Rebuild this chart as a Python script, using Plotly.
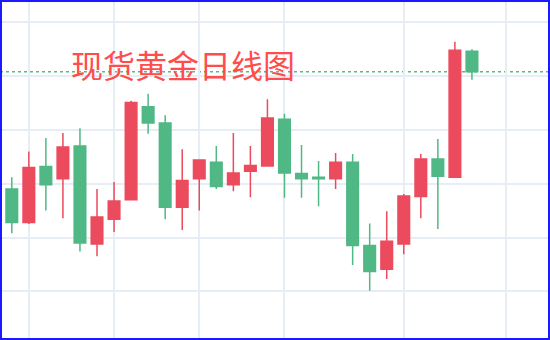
import plotly.graph_objects as go

# Daily candles (index order, oldest first)
days = list(range(28))
open_ = [1929.0, 1922.8, 1933.2, 1930.9, 1937.0, 1918.8, 1923.4, 1927.0, 1944.3, 1941.3,
         1925.6, 1930.9, 1934.0, 1929.8, 1932.3, 1933.3, 1942.0, 1931.9, 1931.2, 1930.9,
         1934.0, 1918.5, 1914.1, 1918.8, 1927.6, 1934.6, 1931.2, 1954.6]
high = [1931.2, 1936.0, 1938.5, 1939.4, 1940.3, 1929.0, 1930.3, 1945.4, 1946.7, 1942.7,
        1936.4, 1934.5, 1937.0, 1939.4, 1937.0, 1945.7, 1943.0, 1937.2, 1934.2, 1935.7,
        1935.5, 1922.6, 1924.9, 1928.1, 1935.5, 1938.3, 1956.4, 1955.0]
low = [1920.8, 1922.5, 1925.0, 1923.6, 1917.4, 1916.5, 1921.0, 1926.9, 1939.3, 1923.4,
       1921.4, 1925.0, 1929.0, 1928.6, 1927.5, 1933.2, 1927.4, 1927.4, 1925.8, 1929.0,
       1914.9, 1910.1, 1912.3, 1916.9, 1923.6, 1921.6, 1931.2, 1949.3]
close = [1922.8, 1933.0, 1929.8, 1936.8, 1919.0, 1923.8, 1926.8, 1945.1, 1941.3, 1925.6,
         1930.6, 1934.4, 1929.5, 1932.0, 1933.4, 1942.2, 1932.0, 1930.9, 1930.9, 1934.0,
         1918.5, 1913.7, 1919.3, 1927.7, 1934.6, 1931.4, 1954.8, 1950.8]
grid_x = [1, 6, 11, 16, 23, 29]
grid_y = [1910, 1920, 1930, 1940, 1950, 1960]
title_text = "现货黄金日线图"

RED = "#eb4b5c"
GREEN = "#4fb884"

fig = go.Figure()
fig.add_trace(go.Candlestick(
    x=days, open=open_, high=high, low=low, close=close,
    increasing=dict(fillcolor=RED, line=dict(color=RED, width=1.5)),
    decreasing=dict(fillcolor=GREEN, line=dict(color=GREEN, width=1.5)),
    whiskerwidth=0, hoverinfo="skip", showlegend=False,
))

# last price dotted line
fig.add_hline(y=close[-1], line=dict(color="#5cb88a", width=1.5, dash="dot"), layer="below")

fig.add_annotation(
    text=title_text, xref="paper", yref="paper", x=69 / 550, y=1 - 64 / 340,
    xanchor="left", yanchor="middle", showarrow=False,
    font=dict(family="Noto Sans CJK SC", size=32, color="#ff4d4d"),
)

fig.add_shape(type="rect", xref="paper", yref="paper", x0=0, y0=0, x1=1, y1=1,
              line=dict(color="#1a1aff", width=4), layer="above")

fig.update_layout(
    width=550, height=340,
    margin=dict(l=0, r=0, t=0, b=0),
    paper_bgcolor="white", plot_bgcolor="white",
    boxgap=0.32, boxgroupgap=0,
    hovermode=False,
    xaxis=dict(range=[-0.692, 31.58], tickvals=grid_x, showticklabels=False,
               gridcolor="#e6edf4", gridwidth=1.5, zeroline=False, showline=False,
               rangeslider=dict(visible=False), fixedrange=True),
    yaxis=dict(range=[1900.95, 1964.14], tickvals=grid_y, showticklabels=False,
               gridcolor="#e6edf4", gridwidth=1.5, zeroline=False, showline=False,
               fixedrange=True),
)

fig.write_html("out.html", config={"displayModeBar": False})
